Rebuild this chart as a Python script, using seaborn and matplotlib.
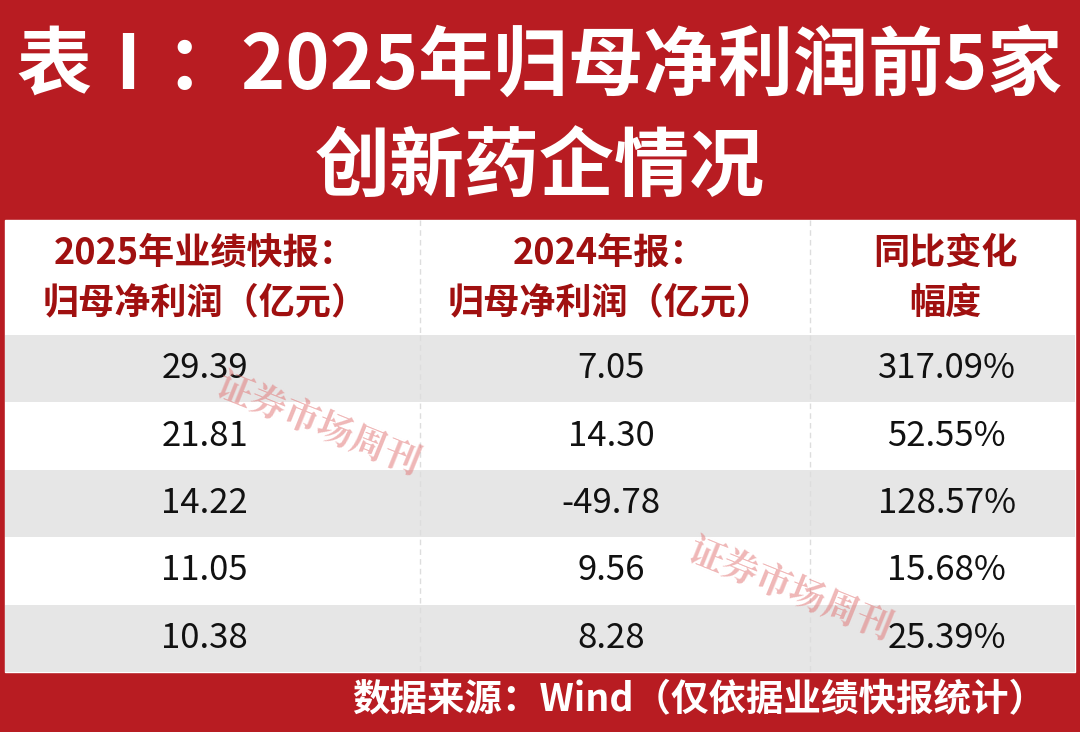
import matplotlib
matplotlib.use('Agg')
import matplotlib.pyplot as plt
import seaborn as sns
import numpy as np
from matplotlib.patches import Rectangle

title_lines = ['表Ⅰ：2025年归母净利润前5家', '创新药企情况']
headers = ['2025年业绩快报：\n归母净利润（亿元）', '2024年报：\n归母净利润（亿元）', '同比变化\n幅度']
profit_2025 = ['29.39', '21.81', '14.22', '11.05', '10.38']
profit_2024 = ['7.05', '14.30', '-49.78', '9.56', '8.28']
yoy_change = ['317.09%', '52.55%', '128.57%', '15.68%', '25.39%']
source = '数据来源：Wind（仅依据业绩快报统计）'
watermark = '证券市场周刊'

sns.set_theme(style='white')
plt.rcParams['font.family'] = ['Noto Sans CJK SC', 'DejaVu Sans']

RED = '#b81c22'
DARK = '#a01010'
W, H = 1080, 732
fig = plt.figure(figsize=(W / 100, H / 100), dpi=100)
fig.patch.set_facecolor(RED)

# background axes in pixel coords
bg = fig.add_axes([0, 0, 1, 1])
bg.set_xlim(0, W)
bg.set_ylim(H, 0)
bg.axis('off')
bg.add_patch(Rectangle((5, 220), W - 10, 452, color='white', zorder=0))
bg.text(540, 68, title_lines[0], color='white', fontsize=54, fontweight='black', ha='center', va='center')
bg.text(540, 168, title_lines[1], color='white', fontsize=54, fontweight='black', ha='center', va='center')
for x, h in zip([205, 610, 945], headers):
    bg.text(x, 278, h, color=DARK, fontsize=26, fontweight='bold', ha='center', va='center', linespacing=1.45)
bg.text(1046, 700, source, color='white', fontsize=27, fontweight='bold', ha='right', va='center')
for x in [420, 810]:
    bg.plot([x, x], [220, 335], color='#dddddd', lw=1, ls=(0, (4, 3)))

# data rows via heatmap
ax = fig.add_axes([5 / W, 1 - 672 / H, 1070 / W, 337 / H])
shade = np.array([[1, 1, 1], [0, 0, 0], [1, 1, 1], [0, 0, 0], [1, 1, 1]])
annot = np.array([profit_2025, profit_2024, yoy_change]).T
sns.heatmap(shade, ax=ax, cmap=['#ffffff', '#e6e6e6'], cbar=False, annot=annot, fmt='',
            annot_kws={'fontsize': 25, 'color': '#111111'}, xticklabels=False, yticklabels=False)
for i, t in enumerate(ax.texts):
    t.set_x([0.56, 1.70, 2.64][i % 3])

# overlay: dividers and watermarks
ov = fig.add_axes([0, 0, 1, 1])
ov.set_xlim(0, W)
ov.set_ylim(H, 0)
ov.axis('off')
ov.patch.set_alpha(0)
for x in [420, 810]:
    ov.plot([x, x], [335, 672], color='#dddddd', lw=1, ls=(0, (4, 3)))
for (x, y) in [(318, 425), (790, 590)]:
    ov.text(x, y, watermark, color='#e07070', alpha=0.5, fontsize=26, fontweight='bold',
            family=['Noto Serif CJK SC', 'Noto Sans CJK SC'], rotation=-22, ha='center', va='center')

fig.savefig('out.png', dpi=100, facecolor=RED)
